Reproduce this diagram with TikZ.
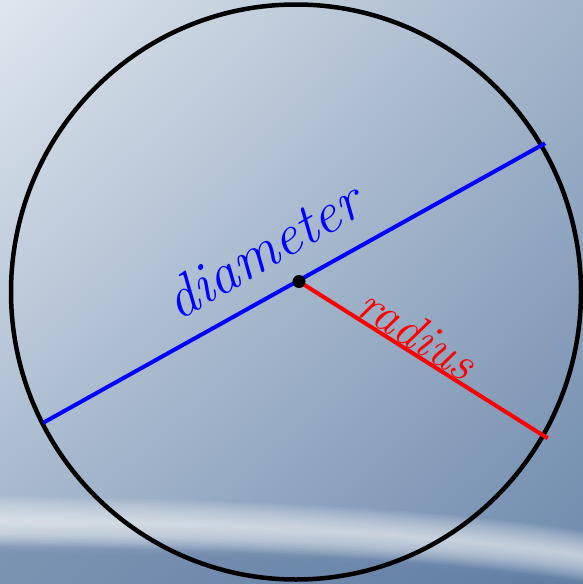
\documentclass[tikz,border=0pt]{standalone}
\usetikzlibrary{shadings,shapes.geometric}
\definecolor{bgUL}{HTML}{DFE6EE}
\definecolor{bgUR}{HTML}{A2B4C9}
\definecolor{bgLL}{HTML}{9FB2C9}
\definecolor{bgLR}{HTML}{6E8AAD}
\definecolor{bgLow}{HTML}{5A78A0}
\definecolor{penblue}{HTML}{0000FF}
\definecolor{penred}{HTML}{FF0000}
\newcommand{\streakband}[1]{(0,521-#1) .. controls (250,524-#1) and (450,535-#1) .. (583,556-#1) -- (583,556+#1) .. controls (450,535+#1) and (250,524+#1) .. (0,521+#1) -- cycle}
\newcommand{\lowband}[1]{(0,521+#1) .. controls (250,524+#1) and (450,535+#1) .. (583,556+#1) -- (583,600) -- (0,600) -- cycle}
\begin{document}
\begin{tikzpicture}[x=1pt,y=-1pt,
  rim/.style={ellipse, draw=black, line width=4.5pt, inner sep=0pt, minimum width=570pt, minimum height=575pt},
  centre/.style={circle, fill=black, inner sep=0pt, minimum size=13pt},
  diam/.style={draw=penblue, line width=4pt},
  rad/.style={draw=penred, line width=4pt},
  hand/.style={inner sep=0pt}]
\useasboundingbox (0,0) rectangle (583,584);
\shade[upper left=bgUL, upper right=bgUR, lower left=bgLL, lower right=bgLR] (0,0) rectangle (583,584);
% darker lower part
\foreach \k in {1,...,12}{
  \fill[bgLow, opacity=0.05] \lowband{12+1.6*\k};
}
% light streak
\foreach \k in {1,...,18}{
  \fill[white, opacity=0.05] \streakband{1.4*\k};
}
\node[rim] (circ) at (296,292) {};
\coordinate (A) at (43.3,422.7);
\coordinate (B) at (545,143.3);
\coordinate (R) at (547.7,438.3);
\coordinate (O) at (299,281.5);
\draw[diam] (A) -- (B);
\draw[rad] (O) -- (R);
\node[centre] (c) at (O) {};
\node[hand, text=penblue, rotate=30, font=\fontsize{58}{58}\selectfont\itshape] (dlab) at (262,250) {diameter};
\node[hand, text=penred, rotate=-32, font=\fontsize{50}{50}\selectfont\itshape] (rlab) at (418,333) {radius};
\end{tikzpicture}
\end{document}
